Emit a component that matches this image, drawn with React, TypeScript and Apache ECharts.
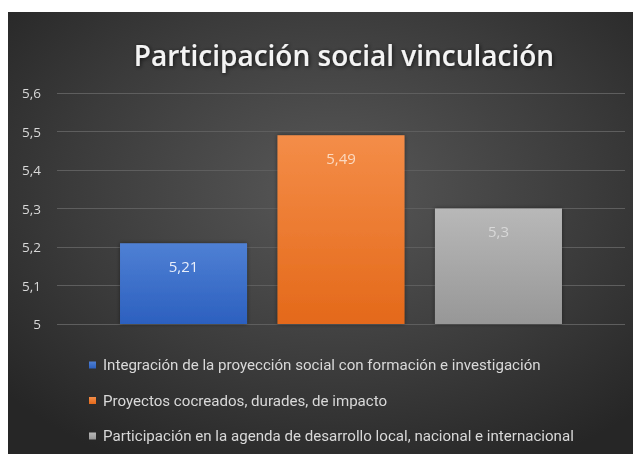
import React, { useEffect, useRef } from "react";
import * as echarts from "echarts";

const titleText = "Participación social vinculación";
const categories = [""];
const seriesNames = [
  "Integración de la proyección social con formación e investigación",
  "Proyectos cocreados, durades, de impacto",
  "Participación en la agenda de desarrollo local, nacional e internacional",
];
const seriesValues = [5.21, 5.49, 5.3];
const seriesColors = [
  ["#4f80d4", "#2c60bf"],
  ["#f48d48", "#e4691a"],
  ["#b8b8b8", "#979797"],
];
const labelColors = ["#e8eefa", "#fbd9c0", "#d8d8d8"];

const fmt = (v: number) => String(Number(v.toFixed(2))).replace(".", ",");

export default function App() {
  const ref = useRef<HTMLDivElement>(null);
  useEffect(() => {
    if (!ref.current) return;
    const chart = echarts.init(ref.current, undefined, { renderer: "svg" });
    chart.setOption({
      animation: false,
      backgroundColor: "transparent",
      title: {
        text: titleText,
        left: 331,
        top: 24,
        textAlign: "center",
        textStyle: {
          color: "#f4f4f4",
          fontFamily: "Open Sans",
          fontWeight: 600,
          fontSize: 28,
          textShadowColor: "rgba(0,0,0,0.7)",
          textShadowBlur: 4,
          textShadowOffsetX: 1,
          textShadowOffsetY: 1,
        },
      },
      grid: { left: 49, right: 8, top: 81, bottom: 130, containLabel: false },
      xAxis: {
        type: "category",
        data: categories,
        axisLine: { show: false },
        axisTick: { show: false },
        axisLabel: { show: false },
      },
      yAxis: {
        type: "value",
        min: 5,
        max: 5.6,
        interval: 0.1,
        axisLine: { show: false },
        axisTick: { show: false },
        axisLabel: {
          formatter: (v: number) => fmt(v),
          color: "#d9d9d9",
          fontFamily: "Open Sans",
          fontSize: 13.5,
          margin: 16,
        },
        splitLine: { lineStyle: { color: "#5e5e5e", width: 1.2 } },
      },
      legend: {
        orient: "vertical",
        left: 81,
        top: 345,
        padding: 0,
        itemWidth: 7,
        itemHeight: 7,
        itemGap: 19.5,
        icon: "rect",
        textStyle: {
          color: "#d9d9d9",
          fontFamily: "Roboto",
          fontSize: 15.1,
          lineHeight: 16,
          padding: [0, 0, 0, 2],
        },
        data: seriesNames,
      },
      series: seriesNames.map((name, i) => ({
        name,
        type: "bar",
        data: [seriesValues[i]],
        barWidth: 127,
        barGap: "24%",
        itemStyle: {
          color: {
            type: "linear",
            x: 0,
            y: 0,
            x2: 0,
            y2: 1,
            colorStops: [
              { offset: 0, color: seriesColors[i][0] },
              { offset: 1, color: seriesColors[i][1] },
            ],
          },
          shadowColor: "rgba(0,0,0,0.45)",
          shadowBlur: 4,
        },
        label: {
          show: true,
          position: "insideTop",
          distance: 15,
          formatter: (p: any) => fmt(p.value),
          color: labelColors[i],
          fontFamily: "Open Sans",
          fontSize: 15,
        },
      })),
    });
    return () => chart.dispose();
  }, []);
  return (
    <div
      ref={ref}
      style={{
        position: "fixed",
        left: 8,
        top: 12,
        width: 625,
        height: 442,
        background:
          "radial-gradient(ellipse 70% 70% at 52% 40%, #585858 0%, #3b3b3b 60%, #262626 100%)",
      }}
    />
  );
}
